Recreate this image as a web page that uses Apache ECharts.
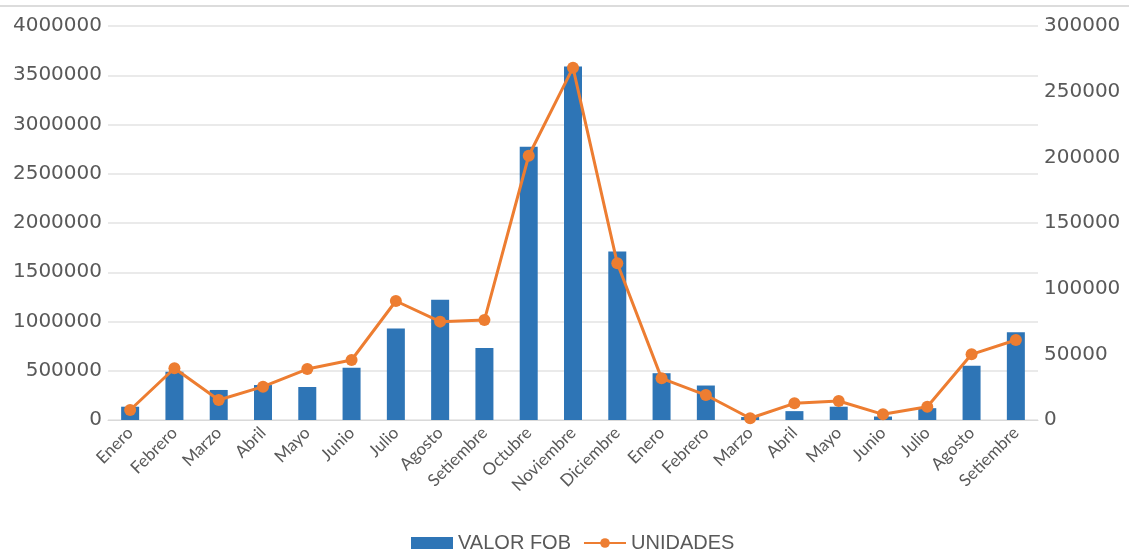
<!DOCTYPE html>
<html>
<head>
<meta charset="utf-8">
<script src="https://cdn.jsdelivr.net/npm/echarts@6/dist/echarts.min.js"></script>
<style>html,body{margin:0;padding:0;background:#fff}#c{width:1129px;height:553px}</style>
</head>
<body>
<div id="c"></div>
<script>
var categories = ['Enero','Febrero','Marzo','Abril','Mayo','Junio','Julio','Agosto','Setiembre','Octubre','Noviembre','Diciembre','Enero','Febrero','Marzo','Abril','Mayo','Junio','Julio','Agosto','Setiembre'];
var valorFob = [135000, 490000, 305000, 355000, 335000, 530000, 930000, 1220000, 730000, 2775000, 3590000, 1710000, 475000, 350000, 30000, 90000, 135000, 35000, 120000, 550000, 890000];
var unidades = [7600, 39400, 15200, 25400, 38800, 45700, 90600, 74900, 76100, 201200, 268300, 119300, 31700, 19000, 1300, 12700, 14500, 4300, 10100, 50000, 60900];
var leftTicks = {min: 0, max: 4000000, interval: 500000};
var rightTicks = {min: 0, max: 300000, interval: 50000};

var chart = echarts.init(document.getElementById('c'));
var txt = '#595959';
chart.setOption({
  animation: false,
  graphic: [{type: 'line', shape: {x1: 0, y1: 6, x2: 1129, y2: 6}, style: {stroke: '#d0d0d0', lineWidth: 1.5}}],
  grid: {left: 108, right: 91, top: 26, bottom: 133},
  legend: {
    top: 528, left: 406, itemGap: 12, itemWidth: 42, itemHeight: 12,
    textStyle: {color: txt, fontSize: 20, fontFamily: 'Liberation Sans'},
    data: [
      {name: 'VALOR FOB', icon: 'rect'},
      {name: 'UNIDADES'}
    ]
  },
  xAxis: {
    type: 'category', data: categories,
    axisLine: {lineStyle: {color: '#d9d9d9'}},
    axisTick: {show: false},
    axisLabel: {rotate: 45, color: txt, fontSize: 17, fontFamily: 'Lato', interval: 0, margin: 10}
  },
  yAxis: [
    {type: 'value', min: leftTicks.min, max: leftTicks.max, interval: leftTicks.interval,
     axisLabel: {color: txt, fontSize: 20, fontFamily: 'DejaVu Sans', margin: 6, formatter: function(v){return String(v);}},
     splitLine: {lineStyle: {color: '#e3e3e3', width: 1.5}}, axisLine: {show: false}, axisTick: {show: false}},
    {type: 'value', min: rightTicks.min, max: rightTicks.max, interval: rightTicks.interval, position: 'right',
     axisLabel: {color: txt, fontSize: 20, fontFamily: 'DejaVu Sans', margin: 6, formatter: function(v){return String(v);}},
     splitLine: {show: false}, axisLine: {show: false}, axisTick: {show: false}}
  ],
  series: [
    {name: 'VALOR FOB', type: 'bar', data: valorFob, yAxisIndex: 0, barWidth: 18,
     itemStyle: {color: '#2E75B6'}},
    {name: 'UNIDADES', type: 'line', data: unidades, yAxisIndex: 1,
     symbol: 'circle', symbolSize: 12,
     lineStyle: {color: '#ED7D31', width: 3}, itemStyle: {color: '#ED7D31'}}
  ]
});
</script>
</body>
</html>
